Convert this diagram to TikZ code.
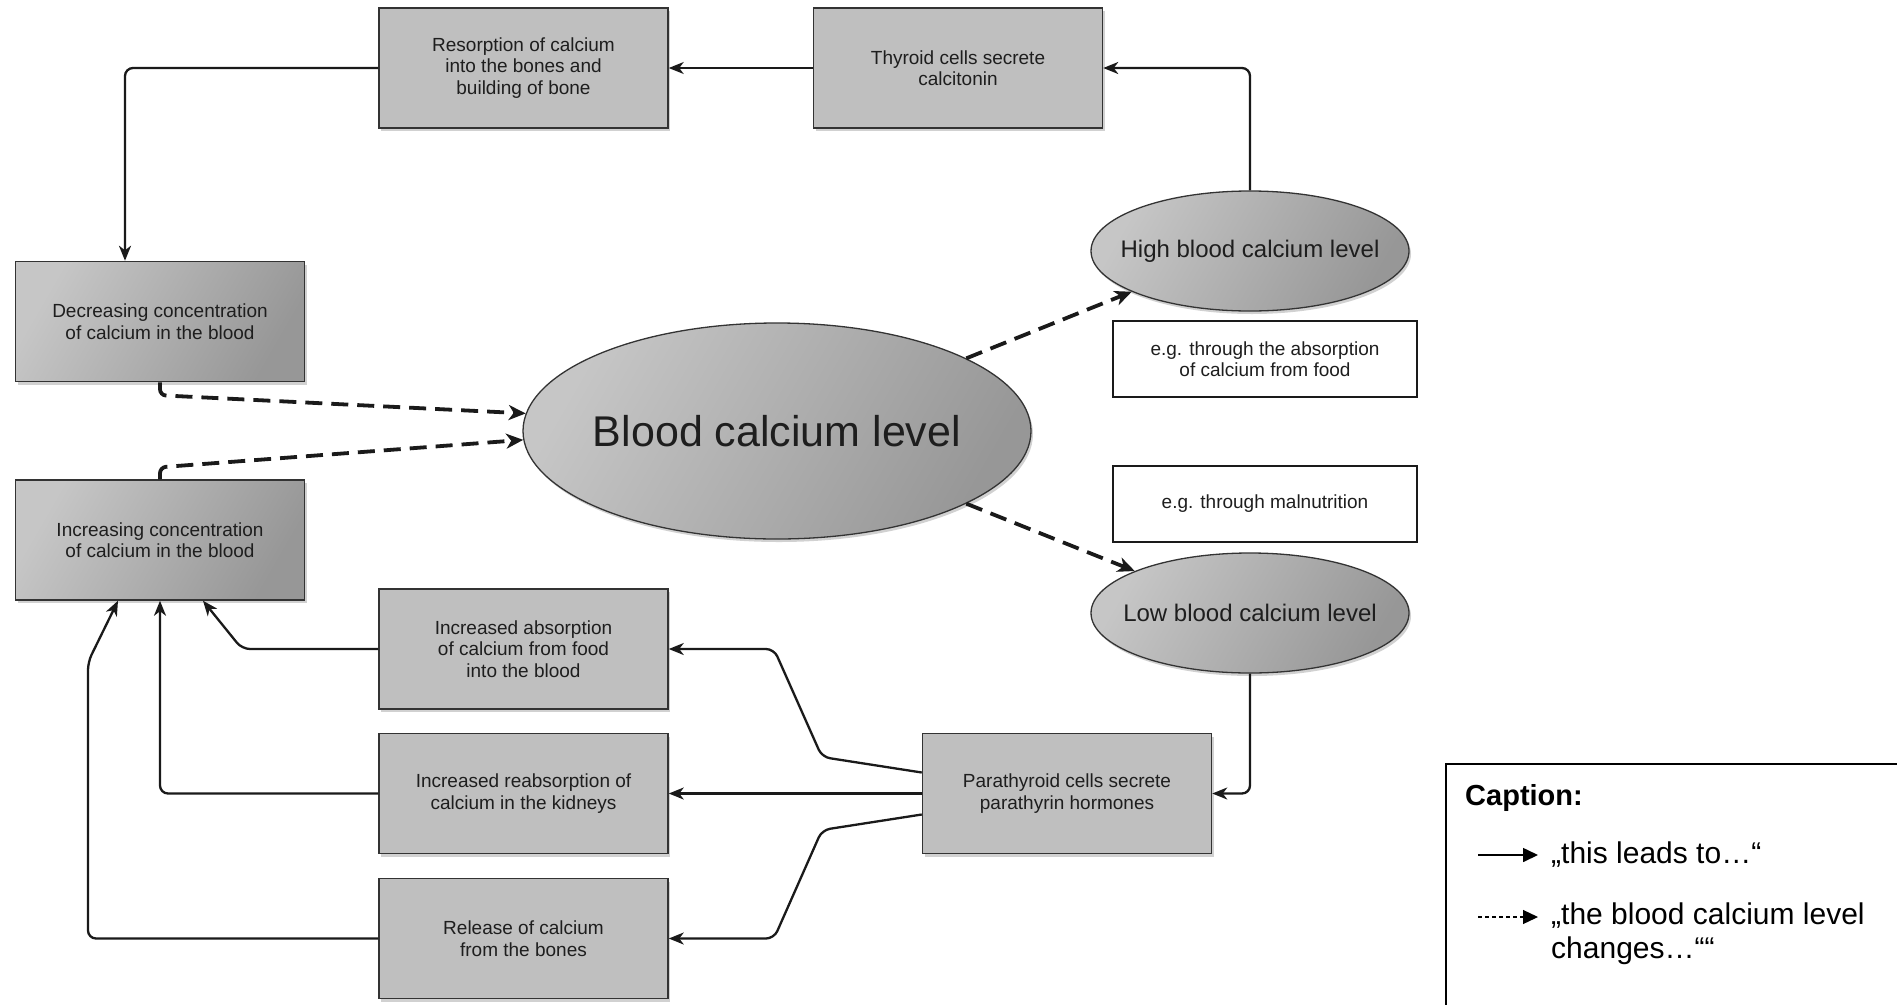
\documentclass[tikz,border=0pt]{standalone}
\usepackage{fontspec}
\setmainfont{Liberation Sans}
\usetikzlibrary{arrows.meta,shapes.geometric,shadows}
\definecolor{boxfill}{HTML}{BFBFBF}
\definecolor{boxline}{HTML}{333333}
\definecolor{gLight}{HTML}{C6C6C6}
\definecolor{gDark}{HTML}{979797}
\definecolor{txtc}{HTML}{1E1E1E}
\definecolor{linec}{HTML}{1A1A1A}
\tikzset{
  shad/.style={drop shadow={shadow xshift=2pt,shadow yshift=-3pt,opacity=0.18,fill=black}},
  box/.style={rectangle, draw=boxline, line width=1.5pt, fill=boxfill, minimum width=289pt, minimum height=120pt, align=center, inner sep=2pt, text=txtc, font=\fontsize{19}{21.5}\selectfont, shad},
  gbox/.style={box, top color=gLight, bottom color=gDark, shading angle=60},
  note/.style={rectangle, draw=linec, line width=1.7pt, fill=white, minimum width=304pt, minimum height=76pt, align=center, text=txtc, font=\fontsize{19}{21.5}\selectfont},
  oval/.style={ellipse, draw=boxline, line width=1.3pt, top color=gLight, bottom color=gDark, shading angle=60, shad, inner sep=0pt},
  ovaltext/.style={text=txtc, inner sep=0pt},
  conn/.style={draw=linec, line width=2.3pt, rounded corners=8pt, -{Stealth[length=15pt,width=12pt,inset=4.5pt]}},
  thinconn/.style={conn, line width=1.2pt},
  dashconn/.style={draw=linec, line width=3.8pt, dash pattern=on 17pt off 9pt, rounded corners=6pt, -{Stealth[length=17pt,width=15pt,inset=5pt]}},
}
\begin{document}
\begin{tikzpicture}[x=1pt,y=-1pt]
\useasboundingbox (0,0) rectangle (1897,1004);
\clip (0,0) rectangle (1897,1004);
\fill[white] (0,0) rectangle (1897,1004);

% boxes
\node[box] (res) at (523.5,68) {Resorption of calcium\\into the bones and\\building of bone};
\node[box] (thy) at (958,68) {Thyroid cells secrete\\calcitonin};
\node[gbox] (dec) at (160,321.5) {Decreasing concentration\\of calcium in the blood};
\node[gbox] (inc) at (160,540) {Increasing concentration\\of calcium in the blood};
\node[box] (abs) at (523.5,649) {Increased absorption\\of calcium from food\\into the blood};
\node[box] (reab) at (523.5,793.5) {Increased reabsorption of\\calcium in the kidneys};
\node[box] (rel) at (523.5,938.5) {Release of calcium\\from the bones};
\node[box] (para) at (1067,793.5) {Parathyroid cells secrete\\parathyrin hormones};
\node[note] (eg1) at (1265,359) {e.g. through the absorption\\of calcium from food};
\node[note] (eg2) at (1265,504) {e.g. through malnutrition};

% ellipses
\node[oval, minimum width=508pt, minimum height=216pt] (blood) at (777,431) {};
\node[ovaltext, font=\fontsize{43}{48}\selectfont] (bloodtxt) at (blood.center) {Blood calcium level};
\node[oval, minimum width=318pt, minimum height=120pt] (high) at (1250,251) {};
\node[ovaltext, font=\fontsize{24}{28}\selectfont] (hightxt) at (high.center) {High blood calcium level};
\node[oval, minimum width=318pt, minimum height=120pt] (low) at (1250,613) {};
\node[ovaltext, font=\fontsize{24}{28}\selectfont] (lowtxt) at (low.center) {Low blood calcium level};

% bend points
\coordinate (pA1) at (822,757);
\coordinate (pA2) at (774,649);
\coordinate (pB1) at (822,830);
\coordinate (pB2) at (774,938.5);
\coordinate (iA) at (242,649);
\coordinate (iC) at (88,662);

% solid connectors
\draw[thinconn] (thy.west) -- (res.east);
\draw[conn] (high.north) |- (thy.east);
\draw[conn] (res.west) -| ([xshift=-35pt]dec.north);
\draw[conn] (low.south) |- (para.east);
\draw[conn] ([yshift=21pt]para.west) -- (pA1) -- (pA2) -- (abs.east);
\draw[conn] (para.west) -- (reab.east);
\draw[conn] ([yshift=-21pt]para.west) -- (pB1) -- (pB2) -- (rel.east);
\draw[conn] (abs.west) -- (iA) -- ([xshift=43pt]inc.south);
\draw[conn] (reab.west) -| (inc.south);
\draw[conn] (rel.west) -| (iC) -- ([xshift=-42pt]inc.south);

% dashed connectors
\draw[dashconn] (dec.south) -- ++(0,13) -- (blood.176.6);
\draw[dashconn] (inc.north) -- ++(0,-12) -- (blood.182.7);
\draw[dashconn] (blood.21) -- (high.199.6);
\draw[dashconn] (blood.-21) -- (low.160);

% caption
\draw[line width=2.5pt, black] (1446,1020) -- (1446,764) -- (1910,764);
\node[anchor=west, inner sep=0pt, font=\bfseries\fontsize{29}{33}\selectfont] (cap) at (1465,798) {Caption:};
\coordinate (s1) at (1478,855);
\coordinate (s2) at (1538,855);
\coordinate (d1) at (1478,917);
\coordinate (d2) at (1538,917);
\draw[line width=1.6pt, -{Triangle[length=15pt,width=14pt]}] (s1) -- (s2);
\draw[line width=1.2pt, dash pattern=on 4pt off 3pt, -{Triangle[length=15pt,width=14pt]}] (d1) -- (d2);
\node[anchor=west, inner sep=0pt, font=\fontsize{30}{33}\selectfont] (leg1) at (1551,855) {„this leads to…“};
\node[anchor=west, inner sep=0pt, align=left, font=\fontsize{30}{34}\selectfont] (leg2) at (1551,934) {„the blood calcium level\\changes…““};
\end{tikzpicture}
\end{document}
